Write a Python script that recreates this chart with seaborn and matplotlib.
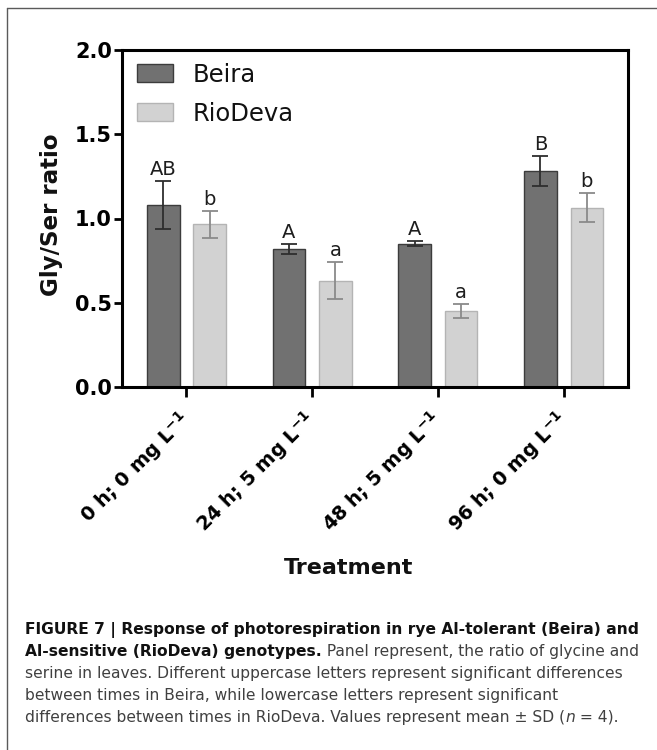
import matplotlib
matplotlib.use("Agg")
import matplotlib.pyplot as plt
from matplotlib.lines import Line2D
import seaborn as sns
import pandas as pd

# ---------------- data ----------------
treatments = ["0 h; 0 mg L$^{-1}$", "24 h; 5 mg L$^{-1}$", "48 h; 5 mg L$^{-1}$", "96 h; 0 mg L$^{-1}$"]
genotypes = ["Beira", "RioDeva"]
beira_mean = [1.08, 0.82, 0.85, 1.28]
beira_sd = [0.14, 0.03, 0.015, 0.09]
riodeva_mean = [0.965, 0.63, 0.45, 1.065]
riodeva_sd = [0.08, 0.11, 0.04, 0.085]
beira_letters = ["AB", "A", "A", "B"]
riodeva_letters = ["b", "a", "a", "b"]
yticks = [0.0, 0.5, 1.0, 1.5, 2.0]

df = pd.DataFrame({
    "Treatment": treatments * 2,
    "Genotype": [genotypes[0]] * 4 + [genotypes[1]] * 4,
    "value": beira_mean + riodeva_mean,
})

sns.set_theme(style="white")
plt.rcParams["font.family"] = ["DejaVu Sans"]
plt.rcParams["mathtext.fontset"] = "dejavusans"
plt.rcParams["mathtext.default"] = "bf"
plt.rcParams["text.color"] = "#111111"
plt.rcParams["axes.labelcolor"] = "#111111"

W, H = 657, 750
fig = plt.figure(figsize=(W / 100, H / 100), dpi=100)
fig.patch.set_facecolor("white")
ax = fig.add_axes([121.5 / W, 1 - 387 / H, (628 - 121.5) / W, (387 - 50) / H])

fill = {"Beira": "#717171", "RioDeva": "#d2d2d2"}
edge = {"Beira": "#3c3c3c", "RioDeva": "#b4b4b4"}
errc = {"Beira": "#2e2e2e", "RioDeva": "#8a8a8a"}

sns.barplot(data=df, x="Treatment", y="value", hue="Genotype", order=treatments,
            hue_order=genotypes, palette=fill, width=0.74, gap=0.3, errorbar=None,
            ax=ax, linewidth=1.0, saturation=1)

means = {"Beira": beira_mean, "RioDeva": riodeva_mean}
sds = {"Beira": beira_sd, "RioDeva": riodeva_sd}
letters = {"Beira": beira_letters, "RioDeva": riodeva_letters}

for g, cont in zip(genotypes, ax.containers):
    xs = []
    for p in cont.patches:
        p.set_edgecolor(edge[g])
        p.set_linewidth(1.0)
        xs.append(p.get_x() + p.get_width() / 2)
    ax.errorbar(xs, means[g], yerr=sds[g], fmt="none", ecolor=errc[g],
                elinewidth=1.3, capsize=5.6, capthick=1.3, zorder=5)
    for x, m, s, lab in zip(xs, means[g], sds[g], letters[g]):
        ax.annotate(lab, (x, m + s), xytext=(0, 1.5), textcoords="offset points",
                    ha="center", va="bottom", fontsize=14, color="#1e1e1e")

ax.set_ylim(0, 2.0)
ax.set_xlim(-0.517, 3.512)
ax.set_yticks(yticks)
ax.set_yticklabels([f"{v:.1f}" for v in yticks], fontsize=15, fontweight="bold")
ax.set_xticks(range(len(treatments)))
ax.set_xticklabels(treatments, fontsize=14, fontweight="bold", rotation=45,
                   ha="right", rotation_mode="anchor", va="center")
for s in ax.spines.values():
    s.set_visible(True)
    s.set_linewidth(2.2)
    s.set_color("black")
ax.tick_params(axis="y", length=6, width=2.0, pad=1, colors="black", left=True)
ax.tick_params(axis="x", length=7, width=2.0, pad=14, colors="black", bottom=True)

ax.set_ylabel("Gly/Ser ratio", fontsize=16.6, fontweight="bold", color="#111111")
ax.yaxis.set_label_coords(-0.1155, 0.51)
ax.set_xlabel("Treatment", fontsize=16, fontweight="bold", color="#111111")
ax.xaxis.set_label_coords(0.449, -0.507)

old = ax.get_legend()
if old is not None:
    old.remove()
handles, labels = ax.get_legend_handles_labels()
leg = ax.legend(handles, labels, loc="upper left", bbox_to_anchor=(0.031, 0.962),
                frameon=False, fontsize=17.5, handlelength=1.48, handleheight=0.78,
                handletextpad=0.8, labelspacing=0.61, borderpad=0, borderaxespad=0,
                labelcolor="#111111")
for h, g in zip(leg.legend_handles, genotypes):
    h.set_edgecolor(edge[g])
    h.set_facecolor(fill[g])

# ---------------- outer frame ----------------
fig.add_artist(Line2D([7 / W, 7 / W], [0, 1 - 8 / H], transform=fig.transFigure,
                      color="#5a5a5a", lw=1.0))
fig.add_artist(Line2D([7 / W, 1], [1 - 8 / H, 1 - 8 / H], transform=fig.transFigure,
                      color="#5a5a5a", lw=1.0))

# ---------------- caption ----------------
cap_lines = [
    [("FIGURE 7 | Response of photorespiration in rye Al-tolerant (Beira) and", "bold", "normal")],
    [("Al-sensitive (RioDeva) genotypes.", "bold", "normal"),
     (" Panel represent, the ratio of glycine and", "normal", "normal")],
    [("serine in leaves. Different uppercase letters represent significant differences", "normal", "normal")],
    [("between times in Beira, while lowercase letters represent significant", "normal", "normal")],
    [("differences between times in RioDeva. Values represent mean \u00b1 SD (", "normal", "normal"),
     ("n", "normal", "italic"), (" = 4).", "normal", "normal")],
]
baselines = [634, 656, 678, 700, 722]
x0 = 25
fig.canvas.draw()
renderer = fig.canvas.get_renderer()

# font sizes chosen so that the caption lines span the same width as in the figure
probe_b = fig.text(0, 0, cap_lines[0][0][0], fontsize=10, fontweight="bold")
probe_r = fig.text(0, 0, cap_lines[2][0][0], fontsize=10)
wb = probe_b.get_window_extent(renderer=renderer).width
wr = probe_r.get_window_extent(renderer=renderer).width
probe_b.remove()
probe_r.remove()
size_b = 10 * (643 - x0) / wb
size_r = 10 * (623 - x0) / wr

for segs, yb in zip(cap_lines, baselines):
    x = x0
    for txt, wt, st in segs:
        t = fig.text(x / W, 1 - yb / H, txt, fontsize=size_b if wt == "bold" else size_r,
                     fontweight=wt, fontstyle=st,
                     color="#111111" if wt == "bold" else "#404040", va="baseline", ha="left")
        bb = t.get_window_extent(renderer=renderer)
        x = bb.x1

fig.savefig("out.png", dpi=100, facecolor="white")
